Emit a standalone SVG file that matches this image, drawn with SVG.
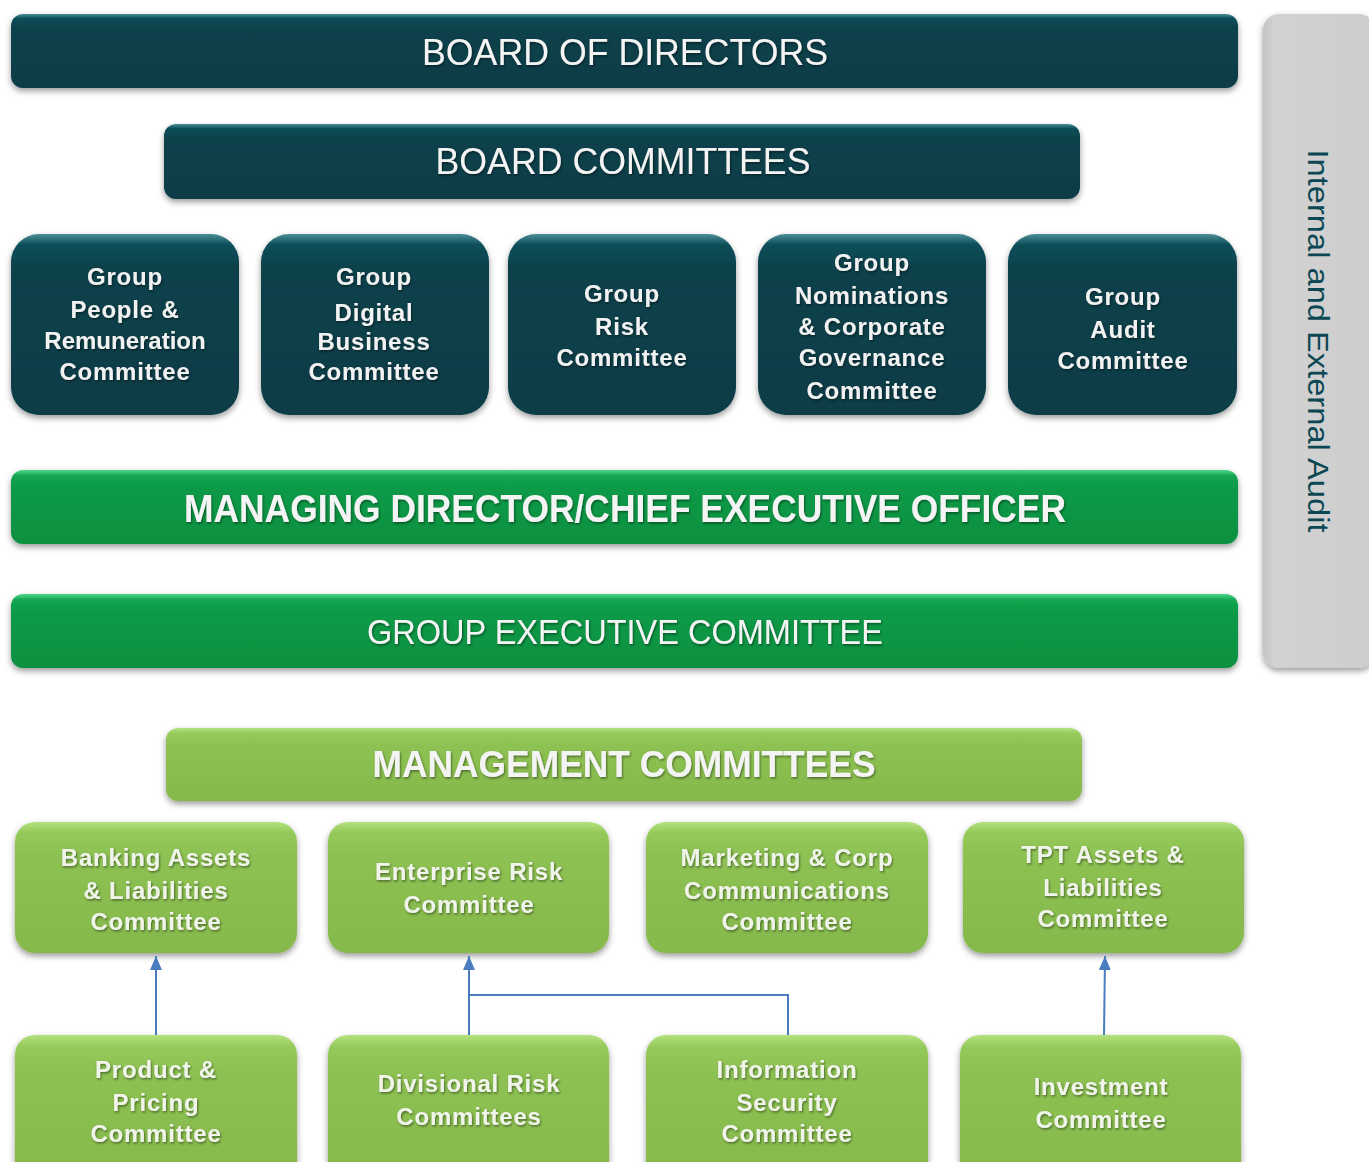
<svg xmlns="http://www.w3.org/2000/svg" width="1369" height="1162" viewBox="0 0 1369 1162">
  <defs>
    <linearGradient id="gTeal" x1="0" y1="0" x2="0" y2="1">
      <stop offset="0" stop-color="#4a8e97"/>
      <stop offset="0.06" stop-color="#0d4e59"/>
      <stop offset="0.18" stop-color="#08424c"/>
      <stop offset="1" stop-color="#073c46"/>
    </linearGradient>
    <linearGradient id="gGreen" x1="0" y1="0" x2="0" y2="1">
      <stop offset="0" stop-color="#4fd88a"/>
      <stop offset="0.08" stop-color="#14a550"/>
      <stop offset="0.25" stop-color="#0b9a47"/>
      <stop offset="1" stop-color="#089040"/>
    </linearGradient>
    <linearGradient id="gLime" x1="0" y1="0" x2="0" y2="1">
      <stop offset="0" stop-color="#b4e27f"/>
      <stop offset="0.08" stop-color="#95c95a"/>
      <stop offset="0.25" stop-color="#8dc152"/>
      <stop offset="1" stop-color="#86b94c"/>
    </linearGradient>
    <linearGradient id="gGrey" x1="0" y1="0" x2="1" y2="0">
      <stop offset="0" stop-color="#c4c4c4"/>
      <stop offset="0.1" stop-color="#d2d2d2"/>
      <stop offset="1" stop-color="#cdcdcd"/>
    </linearGradient>
    <filter id="shadow" x="-10%" y="-20%" width="120%" height="150%">
      <feDropShadow dx="0" dy="3" stdDeviation="3" flood-color="#000" flood-opacity="0.4"/>
    </filter>
    <filter id="tshadow" x="-10%" y="-30%" width="120%" height="160%">
      <feDropShadow dx="1" dy="1.5" stdDeviation="1" flood-color="#000" flood-opacity="0.45"/>
    </filter>
    <marker id="arrow" viewBox="0 0 14 12" refX="14" refY="6" markerWidth="14" markerHeight="12" markerUnits="userSpaceOnUse" orient="auto">
      <path d="M0,0 L14,6 L0,12 Z" fill="#4a7cc0"/>
    </marker>
    <style>
      .teal { fill: url(#gTeal); filter: url(#shadow); }
      .green { fill: url(#gGreen); filter: url(#shadow); }
      .lime { fill: url(#gLime); filter: url(#shadow); }
      .grey { fill: url(#gGrey); filter: url(#shadow); }
      .title { font-family: "Liberation Sans", Arial, sans-serif; fill: #f4f4f4; text-anchor: middle; filter: url(#tshadow); }
      .lbl { font-family: "Liberation Sans", Arial, sans-serif; font-weight: bold; font-size: 24px; letter-spacing: 0.8px; fill: #f2f2f2; text-anchor: middle; filter: url(#tshadow); }
      .lbl2 { font-family: "Liberation Sans", Arial, sans-serif; font-weight: bold; font-size: 24px; letter-spacing: 0.8px; fill: #f0f4ea; text-anchor: middle; filter: url(#tshadow); }
      .conn { fill: none; stroke: #4a7cc0; stroke-width: 2; }
    </style>
  </defs>

  <rect width="1369" height="1162" fill="#ffffff"/>

  <!-- audit side bar -->
  <g id="audit">
    <rect class="grey" x="1263" y="14" width="112" height="654" rx="16"/>
    <text transform="translate(1308,341) rotate(90)" font-family="Liberation Sans, Arial, sans-serif" font-size="30" fill="#0b4853" text-anchor="middle" textLength="383" lengthAdjust="spacingAndGlyphs">Internal  and External Audit</text>
  </g>

  <!-- board level -->
  <g id="board-of-directors">
    <rect class="teal" x="11" y="14" width="1227" height="74" rx="12"/>
    <text class="title" x="625" y="65" font-size="37" textLength="406" lengthAdjust="spacingAndGlyphs">BOARD OF DIRECTORS</text>
  </g>
  <g id="board-committees">
    <rect class="teal" x="164" y="124" width="916" height="75" rx="12"/>
    <text class="title" x="623" y="174" font-size="37" textLength="375" lengthAdjust="spacingAndGlyphs">BOARD COMMITTEES</text>
  </g>

  <g id="people-remuneration">
    <rect class="teal" x="11" y="234" width="228" height="181" rx="28"/>
    <text class="lbl"><tspan x="125" y="285">Group</tspan><tspan x="125" y="318">People &amp;</tspan><tspan x="125" y="349" letter-spacing="0">Remuneration</tspan><tspan x="125" y="380">Committee</tspan></text>
  </g>
  <g id="digital-business">
    <rect class="teal" x="261" y="234" width="228" height="181" rx="28"/>
    <text class="lbl"><tspan x="374" y="285">Group</tspan><tspan x="374" y="321">Digital</tspan><tspan x="374" y="350">Business</tspan><tspan x="374" y="380">Committee</tspan></text>
  </g>
  <g id="group-risk">
    <rect class="teal" x="508" y="234" width="228" height="181" rx="28"/>
    <text class="lbl"><tspan x="622" y="302">Group</tspan><tspan x="622" y="335">Risk</tspan><tspan x="622" y="366">Committee</tspan></text>
  </g>
  <g id="nominations-governance">
    <rect class="teal" x="758" y="234" width="228" height="181" rx="28"/>
    <text class="lbl"><tspan x="872" y="271">Group</tspan><tspan x="872" y="304">Nominations</tspan><tspan x="872" y="335">&amp; Corporate</tspan><tspan x="872" y="366">Governance</tspan><tspan x="872" y="399">Committee</tspan></text>
  </g>
  <g id="group-audit">
    <rect class="teal" x="1008" y="234" width="229" height="181" rx="28"/>
    <text class="lbl"><tspan x="1123" y="305">Group</tspan><tspan x="1123" y="338">Audit</tspan><tspan x="1123" y="369">Committee</tspan></text>
  </g>

  <!-- executive level -->
  <g id="md-ceo">
    <rect class="green" x="11" y="470" width="1227" height="74" rx="12"/>
    <text class="title" x="625" y="522" font-size="38" font-weight="bold" textLength="882" lengthAdjust="spacingAndGlyphs">MANAGING DIRECTOR/CHIEF EXECUTIVE OFFICER</text>
  </g>
  <g id="group-executive-committee">
    <rect class="green" x="11" y="594" width="1227" height="74" rx="12"/>
    <text class="title" x="625" y="644" font-size="35" textLength="516" lengthAdjust="spacingAndGlyphs">GROUP EXECUTIVE COMMITTEE</text>
  </g>

  <!-- management level -->
  <g id="management-committees">
    <rect class="lime" x="166" y="728" width="916" height="73" rx="12"/>
    <text class="title" x="624" y="777" font-size="36" font-weight="bold" fill="#eef3e8" textLength="503" lengthAdjust="spacingAndGlyphs">MANAGEMENT COMMITTEES</text>
  </g>

  <g id="banking-alco">
    <rect class="lime" x="15" y="822" width="282" height="131" rx="20"/>
    <text class="lbl2"><tspan x="156" y="866">Banking Assets</tspan><tspan x="156" y="899">&amp; Liabilities</tspan><tspan x="156" y="930">Committee</tspan></text>
  </g>
  <g id="enterprise-risk">
    <rect class="lime" x="328" y="822" width="281" height="131" rx="20"/>
    <text class="lbl2"><tspan x="469" y="880">Enterprise Risk</tspan><tspan x="469" y="913">Committee</tspan></text>
  </g>
  <g id="marketing-comms">
    <rect class="lime" x="646" y="822" width="282" height="131" rx="20"/>
    <text class="lbl2"><tspan x="787" y="866">Marketing &amp; Corp</tspan><tspan x="787" y="899">Communications</tspan><tspan x="787" y="930">Committee</tspan></text>
  </g>
  <g id="tpt-alco">
    <rect class="lime" x="963" y="822" width="281" height="131" rx="20"/>
    <text class="lbl2"><tspan x="1103" y="863">TPT Assets &amp;</tspan><tspan x="1103" y="896">Liabilities</tspan><tspan x="1103" y="927">Committee</tspan></text>
  </g>

  <g id="product-pricing">
    <rect class="lime" x="15" y="1035" width="282" height="150" rx="20"/>
    <text class="lbl2"><tspan x="156" y="1078">Product &amp;</tspan><tspan x="156" y="1111">Pricing</tspan><tspan x="156" y="1142">Committee</tspan></text>
  </g>
  <g id="divisional-risk">
    <rect class="lime" x="328" y="1035" width="281" height="150" rx="20"/>
    <text class="lbl2"><tspan x="469" y="1092">Divisional Risk</tspan><tspan x="469" y="1125">Committees</tspan></text>
  </g>
  <g id="information-security">
    <rect class="lime" x="646" y="1035" width="282" height="150" rx="20"/>
    <text class="lbl2"><tspan x="787" y="1078">Information</tspan><tspan x="787" y="1111">Security</tspan><tspan x="787" y="1142">Committee</tspan></text>
  </g>
  <g id="investment">
    <rect class="lime" x="960" y="1035" width="281" height="150" rx="20"/>
    <text class="lbl2"><tspan x="1101" y="1095">Investment</tspan><tspan x="1101" y="1128">Committee</tspan></text>
  </g>

  <!-- reporting lines -->
  <g id="connectors">
    <path class="conn" d="M156,1035 V956" marker-end="url(#arrow)"/>
    <path class="conn" d="M469,1035 V956" marker-end="url(#arrow)"/>
    <path class="conn" d="M788,1035 V995 H469"/>
    <path class="conn" d="M1104,1035 L1105,956" marker-end="url(#arrow)"/>
  </g>
</svg>
